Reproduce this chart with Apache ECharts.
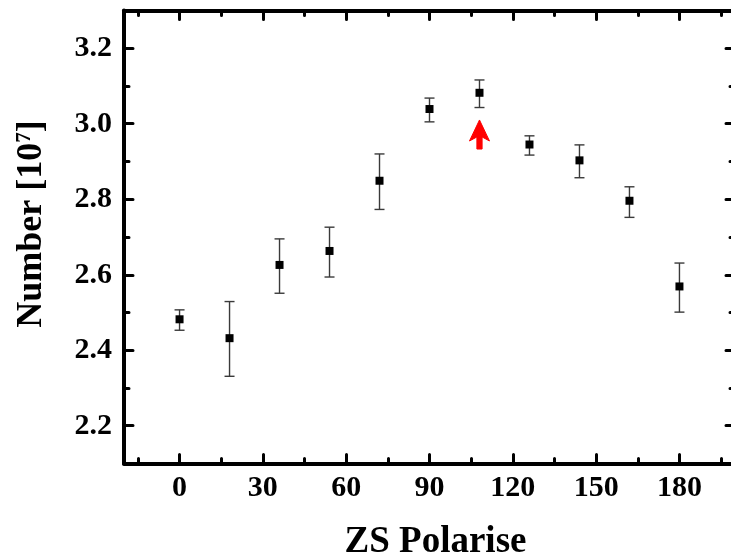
<!DOCTYPE html>
<html>
<head>
<meta charset="utf-8">
<script src="https://cdn.jsdelivr.net/npm/echarts@6/dist/echarts.min.js"></script>
<style>
html,body{margin:0;padding:0;background:#fff;}
#chart{width:731px;height:559px;}
</style>
</head>
<body>
<div id="chart"></div>
<script>
// ---- data ----
var angles = [0, 18, 36, 54, 72, 90, 108, 126, 144, 162, 180];
var numbers = [2.482, 2.432, 2.626, 2.663, 2.849, 3.039, 3.082, 2.945, 2.903, 2.796, 2.569];
var errLow  = [2.453, 2.331, 2.551, 2.594, 2.773, 3.005, 3.043, 2.917, 2.857, 2.752, 2.501];
var errHigh = [2.507, 2.529, 2.695, 2.726, 2.920, 3.068, 3.116, 2.968, 2.944, 2.833, 2.631];
var xMajorTicks = [0, 30, 60, 90, 120, 150, 180];
var xMinorTicks = [-15, 15, 45, 75, 105, 135, 165, 195];
var yMajorTicks = [2.2, 2.4, 2.6, 2.8, 3.0, 3.2];
var yMinorTicks = [2.1, 2.3, 2.5, 2.7, 2.9, 3.1, 3.3];
var arrowTail = [108, 2.933];
var arrowTip = [108, 3.010];

var FONT = "'Liberation Serif','Times New Roman',serif";
var chart = echarts.init(document.getElementById('chart'), null, {renderer: 'canvas'});

function axisBase(type, pos, min, max, majors, showLine, withLabels, tickLen) {
  return {
    type: 'value', position: pos, min: min, max: max,
    splitLine: {show: false},
    axisLine: {show: showLine, onZero: false, lineStyle: {color: '#000', width: 4}},
    axisTick: {show: true, inside: true, length: tickLen, customValues: majors,
               lineStyle: {color: '#000', width: 3, cap: 'round'}},
    axisLabel: {show: withLabels, customValues: majors, fontFamily: FONT, fontWeight: 'bold',
                fontSize: 30, color: '#000', margin: type === 'x' ? 10 : 12,
                formatter: function (v) { return type === 'y' ? v.toFixed(1) : String(v); }},
    nameMoveOverlap: false
  };
}

var xMain = axisBase('x', 'bottom', -20, 200, xMajorTicks, true, true, 9);
xMain.name = 'ZS Polarise';
xMain.nameLocation = 'middle';
xMain.nameGap = 60;
xMain.nameTextStyle = {fontFamily: FONT, fontWeight: 'bold', fontSize: 37, color: '#000', padding: [0, 0, 0, 12]};

var yMain = axisBase('y', 'left', 2.1, 3.3, yMajorTicks, true, true, 9);
yMain.name = 'Number [10{sup|7}]';
yMain.nameLocation = 'middle';
yMain.nameRotate = 90;
yMain.nameGap = 74;
yMain.nameTextStyle = {fontFamily: FONT, fontWeight: 'bold', fontSize: 36, color: '#000', padding: [0, 0, 0, 26],
  rich: {sup: {fontFamily: FONT, fontWeight: 'bold', fontSize: 21, color: '#000', verticalAlign: 'top', padding: [0, 0, 14, 0]}}};

var option = {
  backgroundColor: '#fff',
  animation: false,
  grid: {left: 124, top: 10.5, width: 611, height: 453, outerBoundsMode: 'none', containLabel: false},
  xAxis: [
    xMain,
    axisBase('x', 'bottom', -20, 200, xMinorTicks, false, false, 5),
    axisBase('x', 'top', -20, 200, xMajorTicks, true, false, 9),
    axisBase('x', 'top', -20, 200, xMinorTicks, false, false, 5)
  ],
  yAxis: [
    yMain,
    axisBase('y', 'left', 2.1, 3.3, yMinorTicks, false, false, 5),
    axisBase('y', 'right', 2.1, 3.3, yMajorTicks, false, false, 9),
    axisBase('y', 'right', 2.1, 3.3, yMinorTicks, false, false, 5)
  ],
  series: [
    {
      type: 'custom',
      xAxisIndex: 0, yAxisIndex: 0,
      data: angles.map(function (a, i) { return [a, errLow[i], errHigh[i]]; }),
      renderItem: function (params, api) {
        var lo = api.coord([api.value(0), api.value(1)]);
        var hi = api.coord([api.value(0), api.value(2)]);
        var hw = 5;
        var st = {stroke: '#3a3a3a', lineWidth: 1.4};
        return {
          type: 'group',
          children: [
            {type: 'line', shape: {x1: lo[0], y1: lo[1], x2: hi[0], y2: hi[1]}, style: st},
            {type: 'line', shape: {x1: lo[0] - hw, y1: lo[1], x2: lo[0] + hw, y2: lo[1]}, style: st},
            {type: 'line', shape: {x1: hi[0] - hw, y1: hi[1], x2: hi[0] + hw, y2: hi[1]}, style: st}
          ]
        };
      },
      z: 2,
      silent: true
    },
    {
      type: 'scatter',
      xAxisIndex: 0, yAxisIndex: 0,
      data: angles.map(function (a, i) { return [a, numbers[i]]; }),
      symbol: 'rect',
      symbolSize: 8,
      itemStyle: {color: '#000', opacity: 1},
      z: 3
    },
    {
      type: 'custom',
      xAxisIndex: 0, yAxisIndex: 0,
      data: [[arrowTail[0], arrowTail[1], arrowTip[1]]],
      renderItem: function (params, api) {
        var tail = api.coord([api.value(0), api.value(1)]);
        var tip = api.coord([api.value(0), api.value(2)]);
        var x = tip[0], ty = tip[1], by = tail[1];
        var hw = 10, hh = 21, sw = 2.6, notch = 17;
        return {
          type: 'polygon',
          shape: {points: [
            [x, ty], [x + hw, ty + hh], [x + sw, ty + notch], [x + sw, by],
            [x - sw, by], [x - sw, ty + notch], [x - hw, ty + hh]
          ]},
          style: {fill: '#ff0000', stroke: '#ff0000', lineWidth: 1, lineJoin: 'round'}
        };
      },
      z: 4,
      silent: true
    }
  ]
};
chart.setOption(option);
</script>
</body>
</html>
